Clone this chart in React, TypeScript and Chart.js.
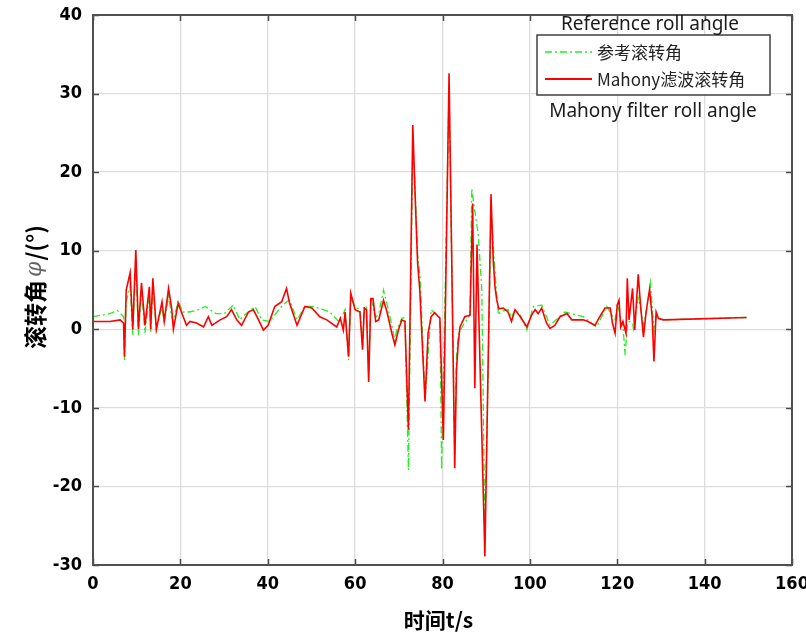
import React, { useEffect, useRef } from "react";
import { Chart, registerables } from "chart.js";

Chart.register(...registerables);

// ---- data (time in s, roll angle in degrees) ----
const tRef = [
  0, 3.9, 5.6, 7.0, 7.2, 7.6, 8.5, 9.1, 9.8, 10.4,
  11.1, 11.9, 12.9, 13.2, 13.7, 14.5, 15.8, 16.3, 17.3, 18.0,
  18.4, 19.5, 20.5, 22.0, 23.7, 25.7, 28.1, 30.1, 32.1, 33.6,
  35.1, 37.1, 38.6, 40.5, 42.8, 44.3, 45.0, 46.7, 48.5, 50.4,
  52.7, 54.2, 56.2, 57.3, 57.7, 58.5, 59.0, 60.0, 61.1, 61.7,
  62.1, 62.6, 63.1, 63.6, 64.7, 65.4, 66.5, 67.6, 68.4, 69.1,
  69.5, 70.7, 71.4, 72.2, 73.2, 73.8, 74.3, 74.9, 76.0, 77.4,
  78.3, 79.4, 79.8, 81.5, 82.8, 83.2, 83.7, 84.7, 86.3, 86.7,
  87.4, 88.2, 89.0, 89.7, 90.5, 91.1, 91.7, 92.2, 92.8, 93.2,
  95.0, 95.8, 96.6, 97.8, 99.3, 100.8, 102.7, 104.6, 108.0, 112.2,
  115.3, 117.6, 119.5, 120.0, 120.4, 120.8, 121.3, 121.8, 122.3, 122.7,
  123.5, 123.7, 124.8, 125.3, 126.0, 126.6, 127.6, 128.4, 128.9, 129.4,
  130.5, 149.6,
];
const vRef = [
  1.6, 2.0, 2.4, 1.6, -3.9, 3.5, 5.5, -0.7, 8.5, -0.8,
  5.0, -0.5, 4.5, -0.3, 5.5, 0.0, 3.0, 0.8, 4.2, 1.6,
  1.0, 3.7, 2.2, 2.2, 2.4, 2.9, 2.0, 2.0, 3.1, 1.2,
  2.0, 2.9, 1.2, 1.0, 2.7, 3.5, 3.7, 1.2, 2.9, 2.9,
  2.5, 2.2, 1.0, 2.0, 2.5, -3.9, 4.0, 2.8, 2.5, -2.0,
  3.0, 2.8, -6.0, 4.0, 1.5, 2.0, 5.0, 2.5, 0.5, -1.5,
  -0.1, 1.4, 1.5, -17.9, 24.0, 17.0, 9.5, 6.5, -9.0, 2.5,
  2.0, 1.5, -17.9, 30.5, -16.0, -3.5, -0.5, 0.5, 1.8, 17.9,
  15.0, 12.0, 5.0, -26.0, -3.9, 15.5, 10.0, 6.0, 1.8, 2.2,
  2.5, 1.5, 2.5, 1.8, -0.1, 2.9, 3.1, 0.5, 2.2, 1.6,
  0.3, 2.9, 1.2, 3.0, 2.5, 0.8, 0.5, -3.3, 0.5, 1.0,
  0.8, 0.1, 4.0, 2.8, 0.5, 2.0, 5.9, -0.3, 1.6, 1.4,
  1.2, 1.5,
];

const tMahony = [
  0, 3.9, 6.2, 7.0, 7.2, 7.6, 8.5, 9.1, 9.8, 10.4,
  11.1, 11.9, 12.9, 13.2, 13.7, 14.5, 15.8, 16.3, 17.3, 18.0,
  18.4, 19.5, 20.3, 21.4, 22.2, 23.7, 25.3, 26.4, 27.2, 29.1,
  30.6, 31.7, 32.9, 34.0, 35.6, 36.7, 37.9, 39.0, 40.1, 41.6,
  43.2, 44.3, 45.0, 46.7, 48.5, 50.1, 51.9, 53.5, 55.8, 56.6,
  57.3, 57.7, 58.5, 59.0, 60.0, 61.1, 61.7, 62.1, 62.6, 63.1,
  63.6, 64.1, 64.7, 65.4, 66.5, 67.3, 68.4, 69.1, 69.9, 70.7,
  71.4, 72.2, 73.2, 73.8, 74.3, 74.8, 76.0, 76.7, 77.4, 78.2,
  79.4, 80.2, 81.5, 82.8, 83.2, 83.6, 84.0, 85.1, 86.3, 86.9,
  87.4, 87.9, 89.7, 91.1, 91.6, 92.0, 92.4, 92.9, 93.9, 95.0,
  95.8, 96.6, 97.8, 99.3, 100.4, 101.2, 101.9, 102.7, 103.8, 104.6,
  105.7, 106.9, 108.5, 109.6, 112.2, 113.3, 114.9, 116.0, 117.2, 118.4,
  118.9, 119.5, 120.0, 120.4, 120.8, 121.3, 122.0, 122.3, 122.7, 123.5,
  124.0, 124.8, 125.3, 126.0, 126.6, 127.4, 128.0, 128.4, 128.9, 129.4,
  130.5, 149.6,
];
const vMahony = [
  1.0, 1.0, 1.2, 0.8, -3.5, 5.0, 7.2, 0.0, 10.1, 0.0,
  5.9, 0.5, 5.4, 0.0, 6.5, 0.0, 3.5, 1.0, 5.2, 2.7,
  0.0, 3.3, 2.1, 0.5, 1.0, 0.8, 0.3, 1.6, 0.5, 1.2,
  1.6, 2.5, 1.2, 0.5, 2.2, 2.5, 1.2, -0.1, 0.5, 2.9,
  3.5, 5.2, 3.3, 0.5, 2.9, 2.7, 1.6, 1.2, 0.3, 1.4,
  -0.1, 2.2, -3.5, 4.6, 2.5, 2.2, -2.6, 2.7, 2.5, -6.7,
  3.9, 3.9, 1.0, 1.2, 3.7, 2.2, -0.5, -2.0, -0.1, 1.2,
  1.0, -12.8, 26.0, 16.0, 8.5, 5.0, -9.2, -0.5, 1.6, 2.1,
  1.4, -14.1, 32.6, -17.7, -5.2, -1.8, 0.3, 1.6, 1.8, 16.0,
  -7.5, 10.8, -28.9, 17.2, 9.0, 5.5, 3.8, 2.6, 2.7, 2.2,
  1.0, 2.5, 1.6, 0.3, 1.8, 2.5, 2.0, 2.7, 0.8, 0.1,
  0.5, 1.6, 2.0, 1.2, 1.2, 1.0, 0.5, 1.6, 2.7, 2.7,
  0.8, -0.5, 3.1, 3.7, 0.3, 1.0, -0.5, 6.5, 1.2, 5.2,
  -0.1, 7.0, 3.3, -1.0, 2.2, 5.1, 1.5, -4.1, 2.2, 1.4,
  1.2, 1.5,
];

const legendLabels = ["参考滚转角", "Mahony滤波滚转角"];
const noteTop = "Reference roll angle";
const noteBottom = "Mahony filter roll angle";
const xTitle = "时间t/s";
const yTitleParts = ["滚转角", "φ", "/(°)"];
const xMin = 0, xMax = 160, xStep = 20;
const yMin = -30, yMax = 40, yStep = 10;

const GREEN = "#22f022";
const RED = "#ff0000";
const GREEN_DASH = [7, 3, 2, 3];
const CJK = '"Noto Sans CJK SC", "Noto Sans", sans-serif';

const decorPlugin = {
  id: "decor",
  afterDatasetsDraw(chart: any) {
    const { ctx, chartArea: a, scales } = chart;
    ctx.save();
    ctx.strokeStyle = "#4a4a4a";
    ctx.lineWidth = 1.5;
    const tl = 6;
    for (let v = xMin; v <= xMax; v += xStep) {
      const x = Math.round(scales.x.getPixelForValue(v)) + 0.5;
      ctx.beginPath();
      ctx.moveTo(x, a.bottom); ctx.lineTo(x, a.bottom - tl);
      ctx.moveTo(x, a.top); ctx.lineTo(x, a.top + tl);
      ctx.stroke();
    }
    for (let v = yMin; v <= yMax; v += yStep) {
      const y = Math.round(scales.y.getPixelForValue(v)) + 0.5;
      ctx.beginPath();
      ctx.moveTo(a.left, y); ctx.lineTo(a.left + tl, y);
      ctx.moveTo(a.right, y); ctx.lineTo(a.right - tl, y);
      ctx.stroke();
    }
    ctx.strokeStyle = "#505050";
    ctx.lineWidth = 2;
    ctx.strokeRect(a.left, a.top, a.right - a.left, a.bottom - a.top);
    ctx.restore();
  },
  afterDraw(chart: any) {
    const { ctx, chartArea: a } = chart;
    ctx.save();
    ctx.fillStyle = "#000";
    ctx.textAlign = "center";
    ctx.textBaseline = "middle";
    ctx.font = "bold 21px " + CJK;
    ctx.fillText(xTitle, (a.left + a.right) / 2 - 4, 620);

    // y title, rotated, with an italic phi
    ctx.save();
    ctx.translate(35, 287);
    ctx.rotate(-Math.PI / 2);
    ctx.textAlign = "left";
    const fonts = [
      "bold 23px " + CJK,
      'italic 22px "DejaVu Serif", "Liberation Serif", serif',
      "bold 23px " + CJK,
    ];
    const colors = ["#000", "#666", "#000"];
    const widths = yTitleParts.map((p, i) => { ctx.font = fonts[i]; return ctx.measureText(p).width; });
    const total = widths.reduce((s, w) => s + w, 0) + 4;
    let x = -total / 2;
    yTitleParts.forEach((p, i) => {
      ctx.font = fonts[i];
      ctx.fillStyle = colors[i];
      ctx.fillText(p, x, 0);
      x += widths[i] + (i === 0 ? 3 : i === 1 ? 1 : 0);
    });
    ctx.restore();

    // legend box
    const bx = 537, by = 35, bw = 233, bh = 60;
    ctx.fillStyle = "#ffffff";
    ctx.fillRect(bx, by, bw, bh);
    ctx.strokeStyle = "#404040";
    ctx.lineWidth = 1.5;
    ctx.strokeRect(bx, by, bw, bh);

    const rows = [
      { y: 52, color: GREEN, dash: GREEN_DASH, w: 1.3, label: legendLabels[0] },
      { y: 79, color: RED, dash: [], w: 2, label: legendLabels[1] },
    ];
    ctx.font = "17px " + CJK;
    ctx.textAlign = "left";
    for (const r of rows) {
      ctx.strokeStyle = r.color;
      ctx.lineWidth = r.w;
      ctx.setLineDash(r.dash);
      ctx.beginPath();
      ctx.moveTo(545, r.y); ctx.lineTo(592, r.y);
      ctx.stroke();
      ctx.setLineDash([]);
      ctx.fillStyle = "#222";
      ctx.fillText(r.label, 597, r.y + 1);
    }

    ctx.textAlign = "center";
    ctx.fillStyle = "#1a1a1a";
    ctx.font = '19px "Noto Sans", "Open Sans", sans-serif';
    ctx.fillText(noteTop, 650, 25);
    ctx.fillText(noteBottom, 653, 112);
    ctx.restore();
  },
};

export default function App() {
  const ref = useRef<HTMLCanvasElement | null>(null);
  useEffect(() => {
    if (!ref.current) return;
    const tickFont = {
      family: '"DejaVu Sans Condensed", "Liberation Sans Narrow", "Liberation Sans", Arial, sans-serif',
      size: 18,
      weight: "bold" as const,
    };
    const chart = new Chart(ref.current, {
      type: "line",
      data: {
        datasets: [
          {
            label: legendLabels[1],
            data: tMahony.map((t, i) => ({ x: t, y: vMahony[i] })),
            borderColor: RED,
            borderWidth: 1.6,
            pointRadius: 0,
            tension: 0,
            fill: false,
          },
          {
            label: legendLabels[0],
            data: tRef.map((t, i) => ({ x: t, y: vRef[i] })),
            borderColor: GREEN,
            borderWidth: 1.3,
            borderDash: GREEN_DASH,
            pointRadius: 0,
            tension: 0,
            fill: false,
          },
        ],
      },
      options: {
        animation: false,
        responsive: false,
        maintainAspectRatio: false,
        layout: { padding: { left: 0, right: 14, top: 15, bottom: 0 } },
        plugins: {
          legend: { display: false },
          tooltip: { enabled: false },
          title: { display: false },
        },
        scales: {
          x: {
            type: "linear",
            min: xMin,
            max: xMax,
            ticks: { stepSize: xStep, color: "#000", font: tickFont, padding: 9, maxRotation: 0 },
            grid: { color: "#dddddd", lineWidth: 1.3, drawTicks: false },
            border: { display: false },
            afterFit: (s: any) => {
              s.height = 69;
              s.paddingLeft = 0;
              s.paddingRight = 0;
            },
          },
          y: {
            type: "linear",
            min: yMin,
            max: yMax,
            ticks: { stepSize: yStep, color: "#000", font: tickFont, padding: 11 },
            grid: { color: "#dddddd", lineWidth: 1.3, drawTicks: false },
            border: { display: false },
            afterFit: (s: any) => {
              s.width = 93;
              s.paddingTop = 0;
              s.paddingBottom = 0;
            },
          },
        },
      },
      plugins: [decorPlugin],
    });
    return () => chart.destroy();
  }, []);
  return (
    <div style={{ position: "fixed", left: 0, top: 0, width: 806, height: 634, background: "#fff" }}>
      <canvas ref={ref} width={806} height={634} style={{ width: 806, height: 634, display: "block" }} />
    </div>
  );
}
